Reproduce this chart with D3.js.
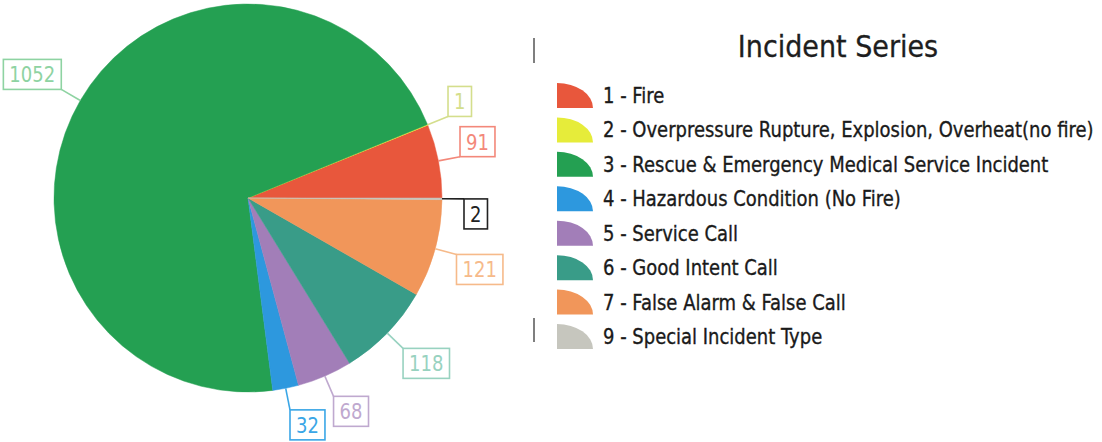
<!DOCTYPE html>
<html>
<head>
<meta charset="utf-8">
<script src="https://cdn.jsdelivr.net/npm/d3@7"></script>
<style>
  body { margin: 0; background: #fff; }
  #container { width: 1102px; height: 442px; }
  text { font-family: "DejaVu Sans", Verdana, sans-serif; }
</style>
</head>
<body>
<div id="container"></div>
<script>
var categories = [
    "1 - Fire",
    "2 - Overpressure Rupture, Explosion, Overheat(no fire)",
    "3 - Rescue & Emergency Medical Service Incident",
    "4 - Hazardous Condition (No Fire)",
    "5 - Service Call",
    "6 - Good Intent Call",
    "7 - False Alarm & False Call",
    "9 - Special Incident Type"
];
var counts = [91, 1, 1052, 32, 68, 118, 121, 2];
var title = "Incident Series";

var sliceColors = ["#e8573c", "#e6ec3a", "#24a052", "#2d98de", "#a27eb8", "#399c88", "#f1965a", "#c6c6be"];
var labelColors = ["#f3887a", "#d4de8c", "#8ed3a2", "#3aa6e6", "#bfa9cf", "#98d2c0", "#f6ba8a", "#222222"];

var width = 1102, height = 442,
    cx = 248, cy = 198, radius = 194,
    squeeze = 0.82; // the scanned fonts are narrow

function drawChart() {

    var svg = d3.select("#container")
      .append("svg")
        .attr("width", width)
        .attr("height", height);

    var pie = d3.pie()
        .sort(null)
        .value(function(d) { return d; })
        .startAngle(Math.PI / 2)
        .endAngle(Math.PI / 2 - 2 * Math.PI);

    var arc = d3.arc()
        .innerRadius(0)
        .outerRadius(radius);

    var arcs = pie(counts);

    var g = svg.append("g")
        .attr("transform", "translate(" + cx + "," + cy + ")");

    g.selectAll("path.slice")
        .data(arcs)
        .enter()
        .append("path")
        .attr("class", "slice")
        .attr("d", arc)
        .attr("fill", function(d, i) { return sliceColors[i]; })
        .attr("stroke", function(d, i) { return sliceColors[i]; })
        .attr("stroke-width", 0.5);

    // value labels: box corner sits just outside the slice midpoint
    var pt = function(a, r) { return [r * Math.sin(a), -r * Math.cos(a)]; };

    var labels = g.selectAll("g.lbl")
        .data(arcs)
        .enter()
        .append("g")
        .attr("class", "lbl");

    labels.each(function(d, i) {
        var sel = d3.select(this),
            mid = (d.startAngle + d.endAngle) / 2,
            p0 = pt(mid, radius),
            p1 = pt(mid, radius + 22),
            col = labelColors[i];

        var txt = sel.append("text")
            .attr("font-size", 22)
            .attr("fill", col)
            .attr("text-anchor", "middle")
            .text(d.data);

        var w = txt.node().getComputedTextLength() * squeeze + 12,
            h = 30,
            bx = Math.sin(mid) >= 0 ? p1[0] : p1[0] - w,
            by = -Math.cos(mid) < 0 ? p1[1] - h : p1[1];

        sel.insert("rect", "text")
            .attr("x", bx).attr("y", by)
            .attr("width", w).attr("height", h)
            .attr("fill", "#fff")
            .attr("stroke", col)
            .attr("stroke-width", 1.6);

        txt.attr("transform", "translate(" + (bx + w / 2) + "," + (by + 23) + ") scale(" + squeeze + ",1)");

        sel.append("line")
            .attr("x1", p0[0]).attr("y1", p0[1])
            .attr("x2", p1[0]).attr("y2", p1[1])
            .attr("stroke", col)
            .attr("stroke-width", 1.6);
    });

    // legend
    var rowY = d3.scalePoint()
        .domain(categories)
        .range([103, 344]);

    svg.append("text")
        .attr("transform", "translate(838,57) scale(0.9,1)")
        .attr("text-anchor", "middle")
        .attr("font-size", 30)
        .attr("fill", "#1e1e1e")
        .attr("stroke", "#1e1e1e")
        .attr("stroke-width", 0.3)
        .text(title);

    var swatch = d3.arc()
        .innerRadius(0)
        .outerRadius(25)
        .startAngle(0)
        .endAngle(Math.PI / 2);

    var rows = svg.selectAll("g.row")
        .data(categories)
        .enter()
        .append("g")
        .attr("class", "row")
        .attr("transform", function(d) { return "translate(0," + rowY(d) + ")"; });

    rows.append("path")
        .attr("d", swatch())
        .attr("transform", "translate(557,5) scale(1.44,1)")
        .attr("fill", function(d, i) { return sliceColors[i]; });

    rows.append("text")
        .attr("transform", "translate(603,0) scale(0.877,1)")
        .attr("font-size", 20.5)
        .attr("fill", "#1a1a1a")
        .attr("stroke", "#1a1a1a")
        .attr("stroke-width", 0.35)
        .text(function(d) { return d; });

    // faint scan marks at the legend frame's left edge
    svg.selectAll("line.mark")
        .data([[38, 63], [318, 342]])
        .enter()
        .append("line")
        .attr("class", "mark")
        .attr("x1", 534).attr("x2", 534)
        .attr("y1", function(d) { return d[0]; })
        .attr("y2", function(d) { return d[1]; })
        .attr("stroke", "#555")
        .attr("stroke-width", 1.5);
}

drawChart();
</script>
</body>
</html>
